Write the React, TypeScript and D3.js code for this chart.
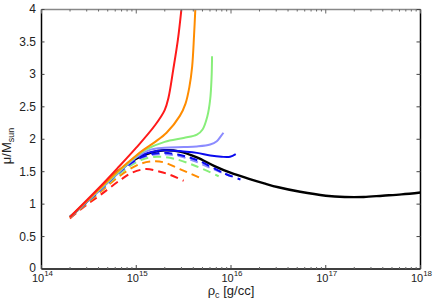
import React from 'react';
import * as d3 from 'd3';

// log10(rho_c) and mu/M_sun
const blackLogRho = [14.3, 14.45, 14.58, 14.69, 14.83, 15.0, 15.15, 15.3, 15.46, 15.64, 15.82, 16.0, 16.19, 16.35, 16.5, 16.73, 17.0, 17.2, 17.4, 17.6, 17.8, 18.0];
const blackMu = [0.8, 1.0, 1.19, 1.35, 1.53, 1.7, 1.79, 1.83, 1.81, 1.72, 1.59, 1.48, 1.39, 1.32, 1.26, 1.19, 1.13, 1.11, 1.11, 1.13, 1.15, 1.18];

const redLogRho = [14.3, 14.6, 14.8, 15.0, 15.2, 15.3, 15.34, 15.39, 15.44, 15.48];
const redMu = [0.8, 1.24, 1.55, 1.87, 2.22, 2.45, 2.64, 3.07, 3.54, 4.05];

const orangeLogRho = [14.3, 14.6, 14.8, 15.0, 15.08, 15.2, 15.32, 15.46, 15.52, 15.56, 15.59, 15.61, 15.625];
const orangeMu = [0.8, 1.22, 1.5, 1.75, 1.84, 1.96, 2.1, 2.36, 2.55, 2.8, 3.12, 3.6, 4.05];

const greenLogRho = [14.3, 14.6, 14.8, 15.0, 15.1, 15.3, 15.5, 15.64, 15.7, 15.75, 15.78, 15.795, 15.8];
const greenMu = [0.8, 1.21, 1.48, 1.74, 1.84, 1.96, 2.02, 2.07, 2.15, 2.35, 2.61, 2.95, 3.28];

const lightBlueLogRho = [14.3, 14.6, 14.8, 15.0, 15.15, 15.3, 15.5, 15.64, 15.78, 15.85, 15.89, 15.92];
const lightBlueMu = [0.8, 1.2, 1.47, 1.72, 1.84, 1.87, 1.88, 1.89, 1.92, 1.97, 2.04, 2.1];

const blueLogRho = [14.3, 14.6, 14.8, 15.0, 15.15, 15.3, 15.5, 15.64, 15.78, 15.9, 15.99, 16.05];
const blueMu = [0.8, 1.2, 1.47, 1.72, 1.8, 1.83, 1.81, 1.79, 1.75, 1.73, 1.73, 1.77];

const redDashLogRho = [14.3, 14.45, 14.62, 14.83, 14.95, 15.1, 15.25, 15.36, 15.5];
const redDashMu = [0.78, 0.96, 1.14, 1.37, 1.48, 1.54, 1.5, 1.45, 1.36];

const orangeDashLogRho = [14.3, 14.6, 14.83, 15.04, 15.2, 15.3, 15.46, 15.68];
const orangeDashMu = [0.79, 1.16, 1.44, 1.62, 1.66, 1.64, 1.54, 1.4];

const greenDashLogRho = [14.3, 14.6, 14.85, 15.05, 15.22, 15.4, 15.64, 15.87];
const greenDashMu = [0.8, 1.18, 1.5, 1.68, 1.73, 1.7, 1.58, 1.43];

const lightBlueDashLogRho = [14.3, 14.6, 14.85, 15.05, 15.25, 15.45, 15.64, 15.78, 16.0];
const lightBlueDashMu = [0.8, 1.19, 1.52, 1.71, 1.77, 1.74, 1.65, 1.56, 1.43];

const blueDashLogRho = [14.3, 14.6, 14.85, 15.05, 15.25, 15.45, 15.64, 15.92, 16.1];
const blueDashMu = [0.8, 1.19, 1.53, 1.72, 1.79, 1.76, 1.68, 1.48, 1.38];

const yTicks = [0, 0.5, 1, 1.5, 2, 2.5, 3, 3.5, 4];
const xDecades = [14, 15, 16, 17, 18];

const W = 436;
const H = 305;
const left = 41.5;
const right = 420.5;
const top = 9.5;
const bottom = 269;

const series = [
  { x: blackLogRho, y: blackMu, color: '#000000', dash: null, width: 2.4 },
  { x: redDashLogRho, y: redDashMu, color: '#ff1a1a', dash: '8,5', width: 2 },
  { x: orangeDashLogRho, y: orangeDashMu, color: '#ff8c00', dash: '8,5', width: 2 },
  { x: greenDashLogRho, y: greenDashMu, color: '#88ee7a', dash: '8,5', width: 2 },
  { x: lightBlueDashLogRho, y: lightBlueDashMu, color: '#8b8bff', dash: '8,5', width: 2 },
  { x: blueDashLogRho, y: blueDashMu, color: '#0a0aee', dash: '8,5', width: 2 },
  { x: blueLogRho, y: blueMu, color: '#0a0aee', dash: null, width: 2 },
  { x: lightBlueLogRho, y: lightBlueMu, color: '#8b8bff', dash: null, width: 2 },
  { x: greenLogRho, y: greenMu, color: '#88ee7a', dash: null, width: 2 },
  { x: orangeLogRho, y: orangeMu, color: '#ff8c00', dash: null, width: 2 },
  { x: redLogRho, y: redMu, color: '#ff1a1a', dash: null, width: 2 },
];

export default function App() {
  const x = d3.scaleLog().domain([1e14, 1e18]).range([left, right]);
  const y = d3.scaleLinear().domain([0, 4]).range([bottom, top]);

  const line = d3
    .line<[number, number]>()
    .x(d => x(Math.pow(10, d[0])))
    .y(d => y(d[1]))
    .curve(d3.curveCatmullRom.alpha(0.5));

  const minor: number[] = [];
  xDecades.slice(0, -1).forEach(e => {
    for (let k = 2; k <= 9; k++) minor.push(k * Math.pow(10, e));
  });

  const font = '"Liberation Sans", Arial, sans-serif';

  return (
    <svg width={W} height={H} style={{ position: 'absolute', left: 0, top: 0 }} fontFamily={font}>
      <rect width={W} height={H} fill="#fff" />
      <defs>
        <clipPath id="plot">
          <rect x={left} y={top} width={right - left} height={bottom - top} />
        </clipPath>
      </defs>

      <g clipPath="url(#plot)">
        {series.map((s, i) => (
          <path
            key={i}
            d={line(s.x.map((v, j) => [v, s.y[j]] as [number, number])) || ''}
            fill="none"
            stroke={s.color}
            strokeWidth={s.width}
            strokeDasharray={s.dash || undefined}
          />
        ))}
      </g>

      {/* frame */}
      <line x1={left} x2={right} y1={top} y2={top} stroke="#888" strokeWidth={1.5} />
      <line x1={left} x2={left} y1={top} y2={bottom} stroke="#000" strokeWidth={1.5} />
      <line x1={right} x2={right} y1={top} y2={bottom} stroke="#000" strokeWidth={1.5} />
      <line x1={left} x2={right} y1={bottom} y2={bottom} stroke="#000" strokeWidth={1.5} />

      {/* y ticks */}
      {yTicks.map(t => (
        <g key={t}>
          <line x1={left} x2={left + 3} y1={y(t)} y2={y(t)} stroke="#444" />
          <line x1={right - 4} x2={right} y1={y(t)} y2={y(t)} stroke="#444" />
          <text x={36} y={y(t) - (t === 0 ? 1 : 0)} dy="0.33em" textAnchor="end" fontSize={12} fill="#222">
            {t}
          </text>
        </g>
      ))}

      {/* x ticks */}
      {minor.map(v => (
        <g key={v}>
          <line x1={x(v)} x2={x(v)} y1={bottom} y2={bottom - 2} stroke="#666" />
          <line x1={x(v)} x2={x(v)} y1={top} y2={top + 2} stroke="#666" />
        </g>
      ))}
      {xDecades.map(e => {
        const px = x(Math.pow(10, e));
        return (
          <g key={e}>
            <line x1={px} x2={px} y1={bottom} y2={bottom - 4} stroke="#444" />
            <line x1={px} x2={px} y1={top} y2={top + 4} stroke="#666" />
            <text x={px + 1} y={282} textAnchor="middle" fontSize={11} fill="#222">
              10
              <tspan fontSize={8} dy={-6}>
                {e}
              </tspan>
            </text>
          </g>
        );
      })}

      {/* axis labels */}
      <text x={231} y={295} textAnchor="middle" fontSize={13} fill="#222">
        ρ<tspan fontSize={9} dy={3}>c</tspan>
        <tspan dy={-3}> [g/cc]</tspan>
      </text>
      <text transform={`translate(11, 146) rotate(-90)`} textAnchor="middle" fontSize={13} fill="#222">
        μ/M<tspan fontSize={9} dy={3}>sun</tspan>
      </text>
    </svg>
  );
}
